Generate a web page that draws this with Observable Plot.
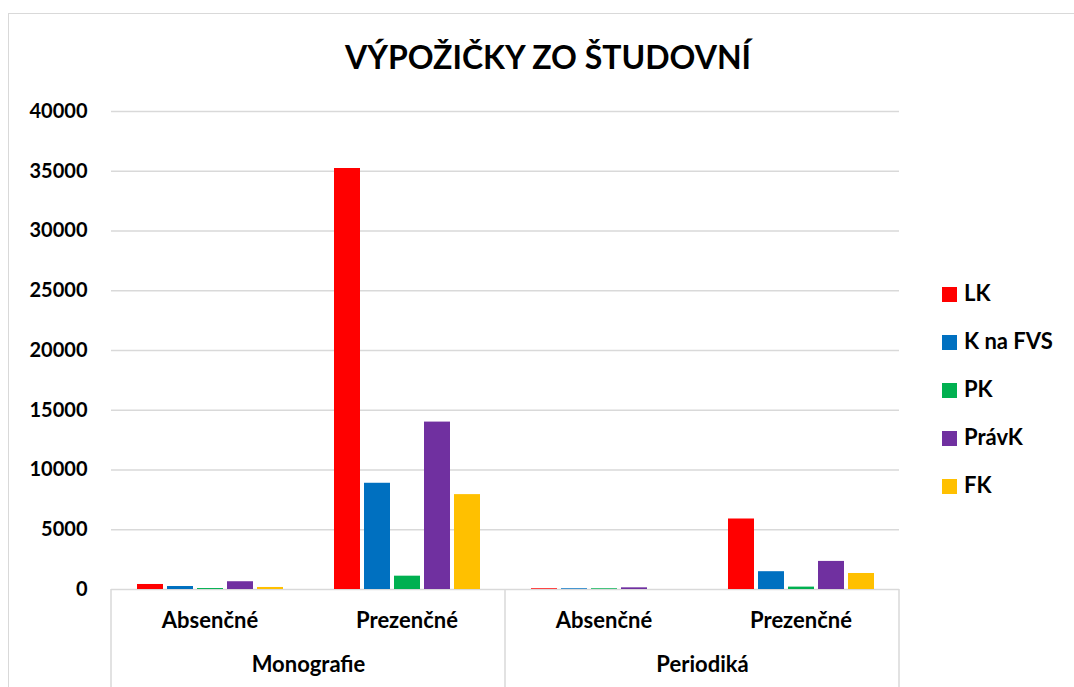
<!DOCTYPE html>
<html>
<head>
<meta charset="utf-8">
<script src="https://cdn.jsdelivr.net/npm/d3@7"></script>
<script src="https://cdn.jsdelivr.net/npm/@observablehq/plot@0.6"></script>
<style>
  body { margin: 0; background: #fff; }
  #wrap { position: relative; width: 1074px; height: 687px; overflow: hidden; font-family: Lato, "Open Sans", sans-serif; }
  #frame { position: absolute; left: 8px; top: 13px; width: 2000px; height: 2000px; border: 1px solid #d9d9d9; }
  #chart { position: absolute; left: 0; top: 0; }
  #title { position: absolute; left: 148px; width: 800px; top: 37px; text-align: center; font-size: 32px; font-weight: bold; color: #000; line-height: 40px; }
  #legend { position: absolute; left: 942px; top: 0; }
  .li { position: absolute; left: 0; white-space: nowrap; font-size: 22px; font-weight: bold; color: #000; height: 24px; line-height: 24px; }
  .sw { display: inline-block; width: 15px; height: 15px; vertical-align: -1px; margin-right: 7px; }
</style>
</head>
<body>
<div id="wrap">
  <div id="frame"></div>
  <div id="chart"></div>
  <div id="title">VÝPOŽIČKY ZO ŠTUDOVNÍ</div>
  <div id="legend"></div>
</div>
<script>
const series = ["LK", "K na FVS", "PK", "PrávK", "FK"];
const colors = ["#ff0000", "#0070c0", "#00b050", "#7030a0", "#ffc000"];
const groups = ["Monografie", "Monografie", "Periodiká", "Periodiká"];
const subgroups = ["Absenčné", "Prezenčné", "Absenčné", "Prezenčné"];
const valLK    = [420, 35230, 60, 5900];
const valKFVS  = [250, 8890, 60, 1490];
const valPK    = [80, 1115, 60, 200];
const valPravK = [650, 14010, 140, 2350];
const valFK    = [170, 7940, 0, 1340];
const yTicks = [0, 5000, 10000, 15000, 20000, 25000, 30000, 35000, 40000];

const seriesValues = [valLK, valKFVS, valPK, valPravK, valFK];
const cats = groups.map((g, i) => ({key: g + " – " + subgroups[i], group: g, sub: subgroups[i], first: i === 0 || groups[i - 1] !== g}));
const keys = cats.map(c => c.key);
const data = [];
cats.forEach((c, i) => series.forEach((s, j) => data.push({key: c.key, series: s, value: seriesValues[j][i]})));

const plot = Plot.plot({
  width: 1074,
  height: 687,
  marginTop: 111,
  marginBottom: 98,
  marginLeft: 110,
  marginRight: 174,
  style: {fontFamily: "Lato, 'Open Sans', sans-serif", fontWeight: "bold", fontSize: "20px", color: "#000", background: "transparent"},
  fx: {domain: keys, padding: 0, axis: null},
  x: {domain: series, paddingInner: 0.15, paddingOuter: 0.81, axis: null},
  y: {domain: [0, 40000], axis: null},
  color: {domain: series, range: colors},
  marks: [
    Plot.gridY(yTicks, {stroke: "#d9d9d9", strokeOpacity: 1, strokeWidth: 1.5}),
    Plot.axisY({ticks: yTicks, label: null, tickSize: 0, tickPadding: 24, tickFormat: d => String(d), fontSize: 20, fontWeight: "bold"}),
    Plot.barY(data, {fx: "key", x: "series", y: "value", fill: "series"}),
    Plot.text(cats, {fx: "key", text: "sub", frameAnchor: "bottom", dy: 38, fontSize: 22, fontWeight: "bold", fill: "#000"}),
    Plot.text(cats.filter(c => c.first), {fx: "key", text: "group", frameAnchor: "bottom-right", textAnchor: "middle", dy: 82, fontSize: 22, fontWeight: "bold", fill: "#000"})
  ]
});
document.getElementById("chart").appendChild(plot);

// group separator lines below the axis, positioned with Plot's fx scale
const fx = plot.scale("fx");
const y0 = 687 - 98;
const sepX = [];
cats.forEach(c => { if (c.first) sepX.push(fx.apply(c.key)); });
sepX.push(fx.apply(keys[keys.length - 1]) + fx.bandwidth);
d3.select(plot).append("g")
  .selectAll("line").data(sepX).join("line")
  .attr("x1", d => d).attr("x2", d => d)
  .attr("y1", y0).attr("y2", 687)
  .attr("stroke", "#d9d9d9").attr("stroke-width", 1.5);

// legend
const legendTops = [281, 329, 377, 425, 473];
const legend = document.getElementById("legend");
series.forEach((s, i) => {
  const d = document.createElement("div");
  d.className = "li";
  d.style.top = legendTops[i] + "px";
  d.innerHTML = `<span class="sw" style="background:${colors[i]}"></span>${s}`;
  legend.appendChild(d);
});
</script>
</body>
</html>
